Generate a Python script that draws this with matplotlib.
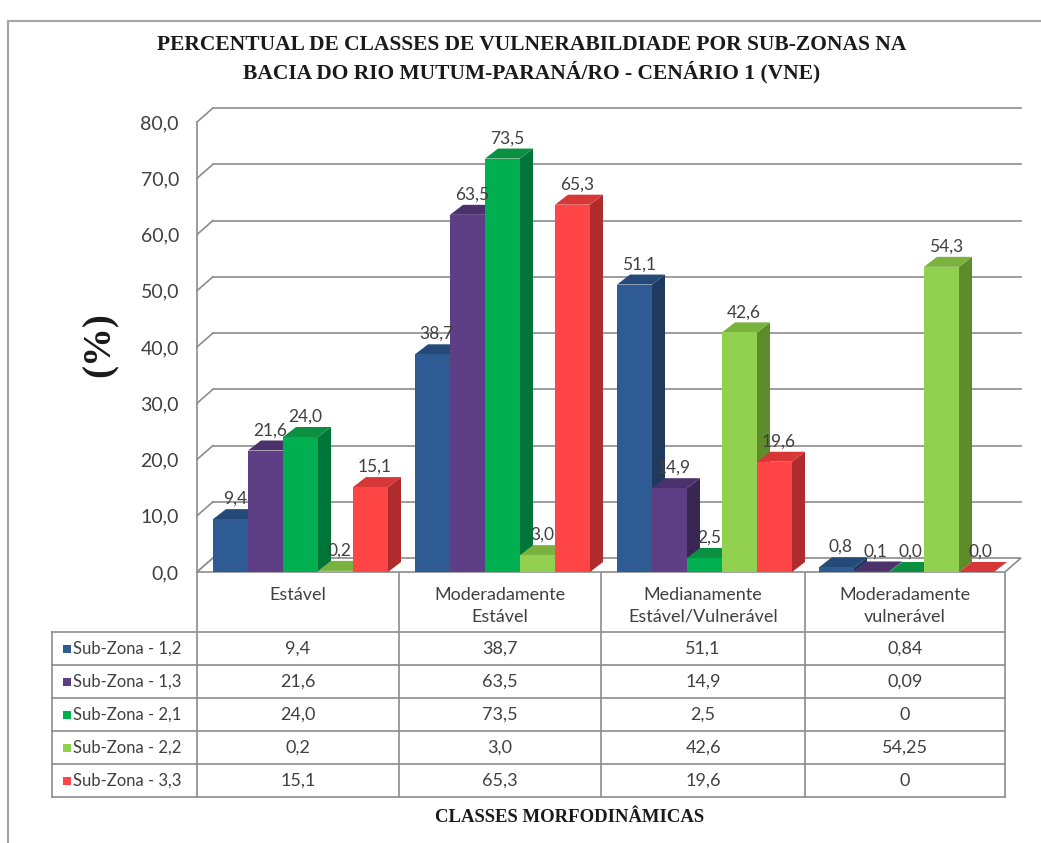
import matplotlib
matplotlib.use("Agg")
import matplotlib.pyplot as plt
from matplotlib.patches import Polygon, Rectangle
from decimal import Decimal, ROUND_HALF_UP

# dados (%)
categorias = ["Estável", "Moderadamente\nEstável", "Medianamente\nEstável/Vulnerável", "Moderadamente\nvulnerável"]
series = ["Sub-Zona - 1,2", "Sub-Zona - 1,3", "Sub-Zona - 2,1", "Sub-Zona - 2,2", "Sub-Zona - 3,3"]
sz_12 = [9.4, 38.7, 51.1, 0.84]
sz_13 = [21.6, 63.5, 14.9, 0.09]
sz_21 = [24.0, 73.5, 2.5, 0]
sz_22 = [0.2, 3.0, 42.6, 54.25]
sz_33 = [15.1, 65.3, 19.6, 0]
valores = [sz_12, sz_13, sz_21, sz_22, sz_33]
yticks = [0, 10, 20, 30, 40, 50, 60, 70, 80]

# cores: frente, topo, lateral
cor_frente = ["#2F5B94", "#5E3F86", "#00AF4F", "#92D14F", "#FF4545"]
cor_topo = ["#264A78", "#4C326C", "#0B9042", "#79B23F", "#D83737"]
cor_lado = ["#1E3A5F", "#3A2653", "#00753A", "#5E8C2B", "#B02B2B"]


def fmt1(v):
    # arredondamento como no Excel (54,25 -> 54,3)
    d = Decimal(str(v)).quantize(Decimal("0.1"), rounding=ROUND_HALF_UP)
    return str(d).replace(".", ",")


W, H = 1041, 843
fig = plt.figure(figsize=(W / 100, H / 100), dpi=100)
fig.patch.set_facecolor("white")

# eixo do grafico (em pixels: x 197..1005, y 572..122)
x0, x1, y0, y1 = 197, 1005, 572, 122
ax = fig.add_axes([x0 / W, 1 - y0 / H, (x1 - x0) / W, (y0 - y1) / H])
ax.set_xlim(0, 4)
ax.set_ylim(0, 80)
ax.patch.set_visible(False)
for s in ax.spines.values():
    s.set_visible(False)
ax.set_xticks([])
ax.set_yticks(yticks)
ax.set_yticklabels([f"{v:.1f}".replace(".", ",") for v in yticks])
ax.tick_params(axis="y", length=0, pad=13, labelsize=14, labelcolor="#404040")
for t in ax.get_yticklabels():
    t.set_family("Lato")

px_x = (x1 - x0) / 4
px_y = (y0 - y1) / 80
dxw, dyw = 16 / px_x, 14 / px_y   # profundidade das paredes
dxb, dyb = 13 / px_x, 10 / px_y   # profundidade das barras
grid = "#8C8C8C"

# piso
ax.add_patch(Polygon([(0, 0), (4, 0), (4 + dxw, dyw), (dxw, dyw)], closed=True,
                     facecolor="white", edgecolor=grid, lw=1.2, zorder=1, clip_on=False))
# grade (parede de fundo e lateral)
for v in yticks:
    ax.plot([0, dxw], [v, v + dyw], color=grid, lw=1.2, zorder=0.5, clip_on=False)
    if v > 0:
        ax.plot([dxw, 4 + dxw], [v + dyw, v + dyw], color=grid, lw=1.2, zorder=0.5, clip_on=False)
ax.plot([0, 0], [0, 80], color=grid, lw=1.2, zorder=0.5, clip_on=False)

# barras 3D
bw = 35 / px_x
off = 16 / px_x
for j, vals in enumerate(valores):
    xs = [i + off + j * bw for i in range(4)]
    z = 2 + j
    ax.bar(xs, vals, width=bw, align="edge", color=cor_frente[j], zorder=z + 0.2,
           linewidth=0, clip_on=False)
    for x, v in zip(xs, vals):
        ax.add_patch(Polygon([(x, v), (x + bw, v), (x + bw + dxb, v + dyb), (x + dxb, v + dyb)],
                             closed=True, facecolor=cor_topo[j], lw=0, zorder=z + 0.1, clip_on=False))
        ax.add_patch(Polygon([(x + bw, 0), (x + bw + dxb, dyb), (x + bw + dxb, v + dyb), (x + bw, v)],
                             closed=True, facecolor=cor_lado[j], lw=0, zorder=z, clip_on=False))
        ax.text(x + bw / 2 + dxb / 3, v + dyb + 0.4, fmt1(v),
                ha="center", va="bottom", fontsize=12.5, color="#404040", family="Lato",
                zorder=20, clip_on=False)

# camada em pixels: moldura, titulos, tabela
ov = fig.add_axes([0, 0, 1, 1], zorder=-1)
ov.set_xlim(0, W)
ov.set_ylim(H, 0)
ov.axis("off")
ov.plot([8, 8, W], [H, 21, 21], color="#A6A6A6", lw=1.6)

serif = "Liberation Serif"
ov.text(532, 45, "PERCENTUAL DE CLASSES DE VULNERABILDIADE POR SUB-ZONAS NA", ha="center", va="center",
        fontsize=15.5, fontweight="bold", family=serif, color="#1A1A1A")
ov.text(532, 72, "BACIA DO RIO MUTUM-PARANÁ/RO - CENÁRIO 1 (VNE)", ha="center", va="center",
        fontsize=15.5, fontweight="bold", family=serif, color="#1A1A1A")
ov.text(100, 345, "(%)", rotation=90, ha="center", va="center", fontsize=28,
        fontweight="bold", family=serif, color="#1A1A1A")
ov.text(570, 818, "CLASSES MORFODINÂMICAS", ha="center", va="center", fontsize=13.5,
        fontweight="bold", family=serif, color="#1A1A1A")

# tabela de dados
col_x = [197, 399, 601, 805, 1005]
row_y = [632, 665, 698, 731, 764, 797]
left = 52
tcol = "#8C8C8C"
for yy in row_y:
    ov.plot([left, col_x[-1]], [yy, yy], color=tcol, lw=1.2)
ov.plot([left, left], [row_y[0], row_y[-1]], color=tcol, lw=1.2)
for xx in col_x:
    ov.plot([xx, xx], [y0, row_y[-1]], color=tcol, lw=1.2)

for i, cat in enumerate(categorias):
    cx = (col_x[i] + col_x[i + 1]) / 2
    ov.text(cx, 587, cat, ha="center", va="top", fontsize=13, family="Lato",
            color="#404040", linespacing=1.45)

for j, nome in enumerate(series):
    cy = (row_y[j] + row_y[j + 1]) / 2
    ov.add_patch(Rectangle((63, cy - 4), 8, 8, facecolor=cor_frente[j], lw=0))
    ov.text(73, cy, nome, ha="left", va="center", fontsize=12, family="Lato", color="#404040")
    for i, v in enumerate(valores[j]):
        cx = (col_x[i] + col_x[i + 1]) / 2
        txt = f"{v:g}" if i == 3 else f"{v:.1f}"
        ov.text(cx, cy, txt.replace(".", ","), ha="center", va="center", fontsize=13,
                family="Lato", color="#404040")

fig.savefig("out.png", dpi=100, facecolor="white")
